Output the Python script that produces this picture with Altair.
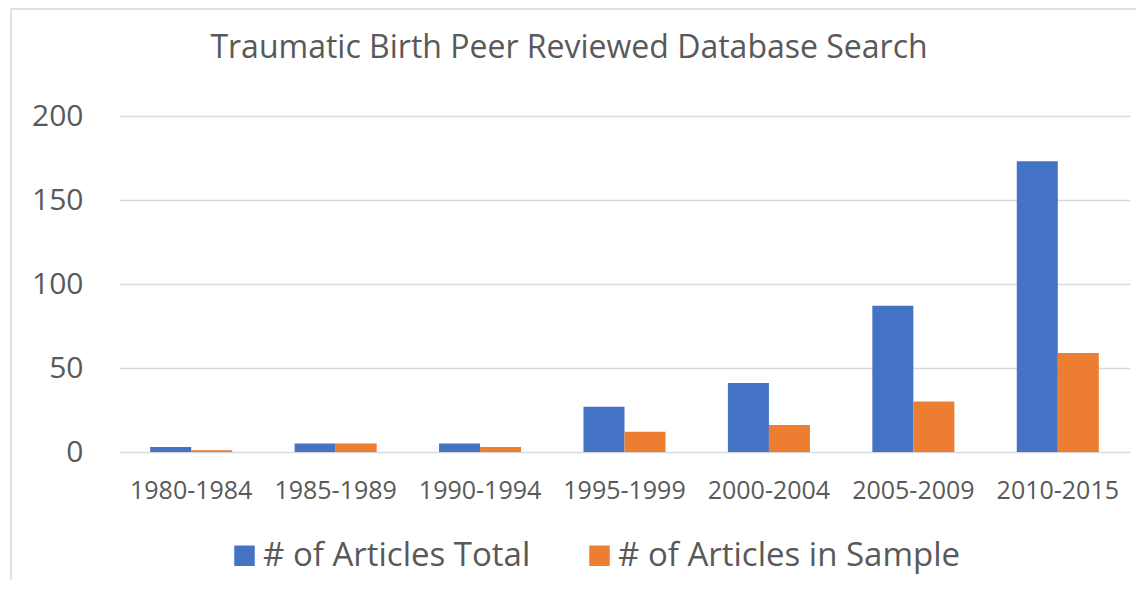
import altair as alt
import pandas as pd

periods = ["1980-1984", "1985-1989", "1990-1994", "1995-1999", "2000-2004", "2005-2009", "2010-2015"]
series_names = ["# of Articles Total", "# of Articles in Sample"]
total_values = [3, 5, 5, 27, 41, 87, 173]
sample_values = [1, 5, 3, 12, 16, 30, 59]
y_ticks = [0, 50, 100, 150, 200]
colors = ["#4472C4", "#ED7D31"]
title_text = "Traumatic Birth Peer Reviewed Database Search"

rows = []
for p, t, s in zip(periods, total_values, sample_values):
    rows.append({"period": p, "series": series_names[0], "value": t})
    rows.append({"period": p, "series": series_names[1], "value": s})
df = pd.DataFrame(rows)

FONT = "Open Sans"
TXT = "#595959"
GRID = "#D9D9D9"

bars = alt.Chart(df).mark_bar().encode(
    x=alt.X("period:N", sort=periods,
            scale=alt.Scale(paddingInner=0.432, paddingOuter=0.216),
            axis=alt.Axis(title=None, labelAngle=0, domain=False, ticks=False,
                          labelFontSize=25, labelColor=TXT, labelFont=FONT,
                          labelPadding=38, labelBaseline="middle", grid=False)),
    xOffset=alt.XOffset("series:N", sort=series_names,
                        scale=alt.Scale(paddingInner=0, paddingOuter=0)),
    y=alt.Y("value:Q", scale=alt.Scale(domain=[0, 200], nice=False),
            axis=alt.Axis(values=y_ticks, title=None, domain=False, ticks=False,
                          labelFontSize=30, labelColor=TXT, labelFont=FONT,
                          labelPadding=36, gridColor=GRID, gridWidth=1.5)),
    color=alt.Color("series:N", sort=series_names,
                    scale=alt.Scale(domain=series_names, range=colors),
                    legend=alt.Legend(title=None, orient="none", legendX=109, legendY=423,
                                      direction="horizontal", symbolType="square",
                                      symbolSize=420, symbolStrokeWidth=0,
                                      labelFontSize=33, labelFont=FONT, labelColor=TXT,
                                      labelLimit=600, columnPadding=52, labelOffset=2)),
)

border = alt.Chart(alt.Data(values=[{}])).mark_rect(
    fillOpacity=0, stroke=GRID, strokeWidth=1.5
).encode(
    x=alt.value(-108), x2=alt.value(1060),
    y=alt.value(-107), y2=alt.value(520),
)

title = alt.Chart(alt.Data(values=[{}])).mark_text(
    font=FONT, fontSize=32, color=TXT, align="center", baseline="alphabetic"
).encode(
    x=alt.value(450), y=alt.value(-58), text=alt.value(title_text),
)

chart = alt.layer(border, bars, title).properties(
    width=1011, height=336,
    autosize=alt.AutoSizeParams(type="none"),
    padding={"left": 111, "right": 6, "top": 108, "bottom": 128},
).configure(background="white").configure_view(stroke=None)

chart.save("out.html", embed_options={"renderer": "svg", "actions": False})
